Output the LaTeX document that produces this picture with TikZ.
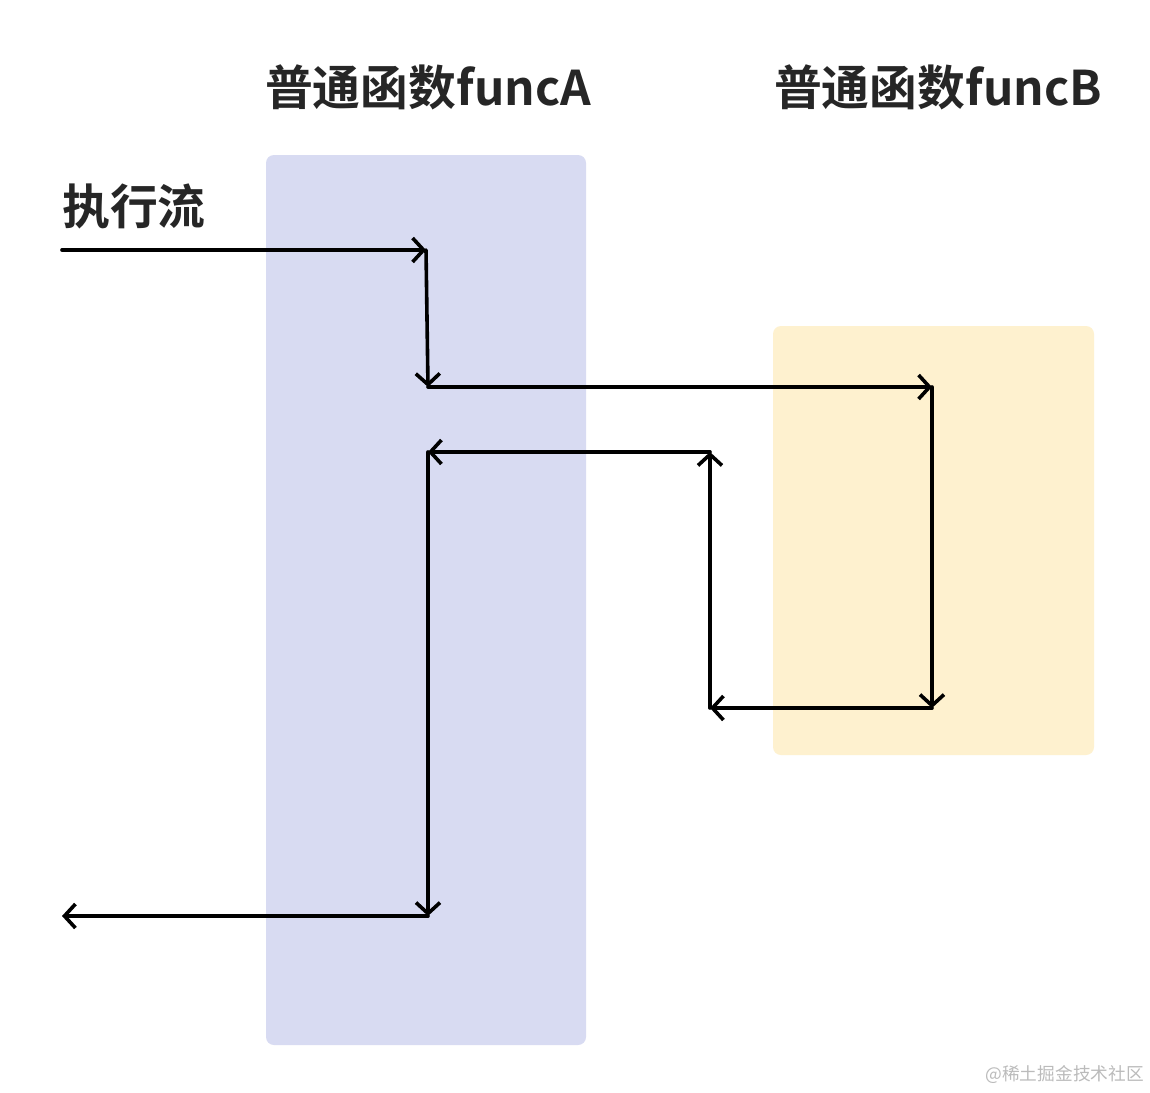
\documentclass[tikz,border=0pt]{standalone}
\usepackage{fontspec}
\newfontfamily\cjk{Noto Sans CJK SC}[BoldFont={Noto Sans CJK SC Bold}]
\usetikzlibrary{arrows.meta}
\definecolor{blueband}{HTML}{D8DBF2}
\definecolor{yellowband}{HTML}{FEF1CF}
\definecolor{titlegray}{HTML}{262626}
\definecolor{wmgray}{HTML}{BBBBBB}
\begin{document}
\begin{tikzpicture}[x=1pt,y=-1pt,
  band/.style={rounded corners=8pt},
  title/.style={font=\cjk\bfseries\fontsize{47.8}{52}\selectfont, text=titlegray, inner sep=0pt},
  flow/.style={line width=3.6pt, -{Straight Barb[length=11pt,width=24pt,line width=3.6pt]}, line cap=round, line join=round}]
\useasboundingbox (0,0) rectangle (1150,1092);
\fill[white] (0,0) rectangle (1150,1092);
\fill[blueband, band] (266,155) rectangle (586,1045);
\fill[yellowband, band] (773,326) rectangle (1094,755);
\node[title] (ta) at (428,87) {普通函数funcA};
\node[title] (tb) at (938,87) {普通函数funcB};
\node[title, anchor=west] (tf) at (62,206) {执行流};
\node[font=\cjk\fontsize{17.7}{20}\selectfont, text=wmgray, anchor=east, inner sep=0pt] (wm) at (1144,1075) {@稀土掘金技术社区};
\coordinate (s) at (62,250);
\coordinate (a1) at (426,250);
\coordinate (a2) at (428,387);
\coordinate (b1) at (932,387);
\coordinate (b2) at (932,708);
\coordinate (c1) at (710,708);
\coordinate (c2) at (710,452);
\coordinate (d1) at (428,452);
\coordinate (d2) at (428,916);
\coordinate (e) at (62,916);
\draw[flow] (s) -- (a1);
\draw[flow] (a1) -- (a2);
\draw[flow] (a2) -- (b1);
\draw[flow] (b1) -- (b2);
\draw[flow] (b2) -- (c1);
\draw[flow] (c1) -- (c2);
\draw[flow] (c2) -- (d1);
\draw[flow] (d1) -- (d2);
\draw[flow] (d2) -- (e);
\end{tikzpicture}
\end{document}
